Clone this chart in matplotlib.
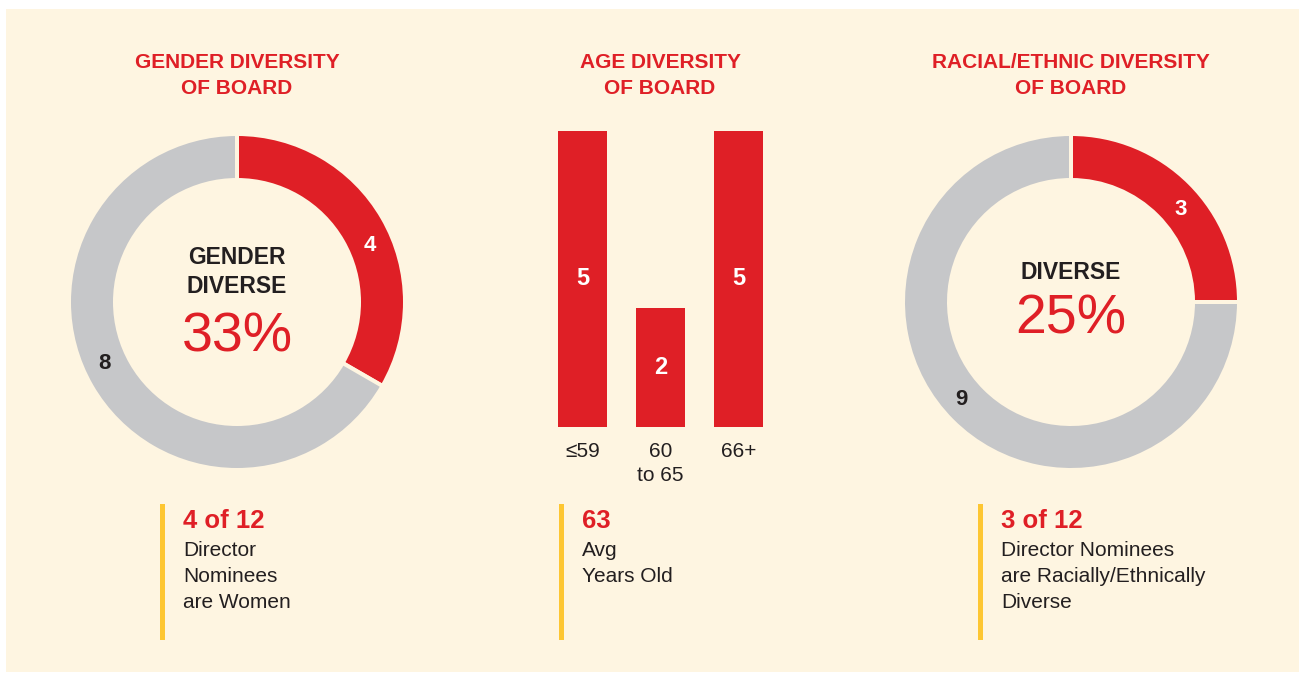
import numpy as np
import matplotlib
matplotlib.use("Agg")
import matplotlib.pyplot as plt
from matplotlib.patches import Rectangle

plt.rcParams['font.family'] = ['Liberation Sans', 'DejaVu Sans']

# data
gender_values = [4, 8]          # women, men
race_values = [3, 9]            # diverse, not diverse
age_groups = ['\u226459', '60\nto 65', '66+']
age_counts = [5, 2, 5]

# colours
RED = '#df1f26'
GREY = '#c6c7c9'
CREAM = '#fef5e1'
YELLOW = '#fdc632'
DARK = '#231f20'

W, H = 1299, 674
fig = plt.figure(figsize=(W / 100, H / 100), dpi=100)
fig.patch.set_facecolor('white')


def px_axes(x0, y0, x1, y1):
    # axes from pixel box, y measured from the top
    ax = fig.add_axes((x0 / W, 1 - y1 / H, (x1 - x0) / W, (y1 - y0) / H))
    ax.set_zorder(2)
    return ax


def ftext(x, y, s, **kw):
    kw.setdefault('va', 'baseline')
    kw.setdefault('zorder', 3)
    return fig.text(x / W, 1 - y / H, s, **kw)


# cream panel
fig.patches.append(Rectangle((6 / W, 1 - 672 / H), (1299 - 6) / W, (672 - 9) / H,
                             transform=fig.transFigure, facecolor=CREAM,
                             edgecolor='none', zorder=-5))

R_OUT = 166.0      # visible outer radius, px
GAP = 4.0          # cream edge line width, px (eats half of it on each side)
RAD = 1 + (GAP / 2) / R_OUT
RING = (42.0 + GAP) / R_OUT


def donut(cx, cy, values, label_colors, shift):
    half = 1.25 * R_OUT
    ax = px_axes(cx - half, cy - half, cx + half, cy + half)
    wedges, _ = ax.pie(values, colors=[RED, GREY], startangle=90, counterclock=False,
                       radius=RAD,
                       wedgeprops=dict(width=RING, edgecolor=CREAM, linewidth=GAP * 0.72))
    ax.set_xlim(-1.25, 1.25)
    ax.set_ylim(-1.25, 1.25)
    ax.set_aspect('equal')
    ax.axis('off')
    rmid = 1 - 21.0 / R_OUT
    for w, v, c in zip(wedges, values, label_colors):
        ang = np.deg2rad((w.theta1 + w.theta2) / 2 - shift)
        ax.text(rmid * np.cos(ang), rmid * np.sin(ang), str(v), ha='center',
                va='center_baseline', fontsize=16, fontweight='bold', color=c)
    return ax


donut(237, 302, gender_values, ['white', DARK], 6)
donut(1071, 302, race_values, ['white', DARK], 4)

# age bars
ax = px_axes(543.5, 130.5, 777.5, 427)
xs = np.arange(len(age_counts))
bars = ax.bar(xs, age_counts, width=0.628, color=RED, clip_on=False)
for b, v in zip(bars, age_counts):
    ax.text(b.get_x() + b.get_width() / 2, v / 2, str(v), ha='center', va='center',
            fontsize=17, fontweight='bold', color='white')
ax.set_xlim(-0.5, 2.5)
ax.set_ylim(0, 5)
ax.set_xticks(xs)
ax.set_xticklabels(age_groups, fontsize=15, color=DARK, linespacing=1.3)
ax.tick_params(axis='x', length=0, pad=11)
ax.set_yticks([])
for s in ax.spines.values():
    s.set_visible(False)
ax.patch.set_alpha(0)

# titles
titles = [(237, ['GENDER DIVERSITY', 'OF BOARD']),
          (660, ['AGE DIVERSITY', 'OF BOARD']),
          (1071, ['RACIAL/ETHNIC DIVERSITY', 'OF BOARD'])]
for x, lines in titles:
    for i, ln in enumerate(lines):
        ftext(x, 68 + 26 * i, ln, ha='center', fontsize=15, fontweight='bold', color=RED)

# donut centres
ftext(237, 264, 'GENDER', ha='center', fontsize=16.5, fontweight='bold', color=DARK)
ftext(237, 293, 'DIVERSE', ha='center', fontsize=16.5, fontweight='bold', color=DARK)
ftext(237, 351, '33%', ha='center', fontsize=40, color=RED)
ftext(1071, 279, 'DIVERSE', ha='center', fontsize=16.5, fontweight='bold', color=DARK)
ftext(1071, 333, '25%', ha='center', fontsize=40, color=RED)

# bottom callouts
callouts = [(162, '4 of 12', ['Director', 'Nominees', 'are Women']),
            (561, '63', ['Avg', 'Years Old']),
            (980, '3 of 12', ['Director Nominees', 'are Racially/Ethnically', 'Diverse'])]
for x, head, body in callouts:
    fig.patches.append(Rectangle(((x - 2) / W, 1 - 640 / H), 4.5 / W, (640 - 504) / H,
                                 transform=fig.transFigure, facecolor=YELLOW,
                                 edgecolor='none', zorder=1))
    ftext(x + 21, 528, head, fontsize=18.5, fontweight='bold', color=RED)
    for i, ln in enumerate(body):
        ftext(x + 21, 556 + 26 * i, ln, fontsize=15, color=DARK)

fig.savefig('out.png', dpi=100)
